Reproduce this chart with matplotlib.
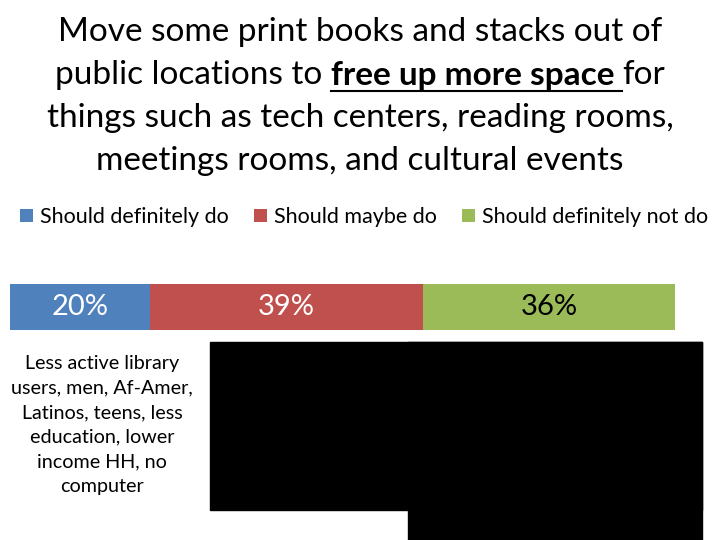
import matplotlib
matplotlib.use("Agg")
import matplotlib.pyplot as plt
from matplotlib.patches import Rectangle

# Data
categories = ["Should definitely do", "Should maybe do", "Should definitely not do"]
values = [20, 39, 36]
colors = ["#4F81BD", "#C0504D", "#9BBB59"]
label_colors = ["white", "white", "black"]

title_lines = ["Move some print books and stacks out of",
               None,
               "things such as tech centers, reading rooms,",
               "meetings rooms, and cultural events"]
title_parts = ["public locations to ", "free up more space ", "for"]

note_text = "Less active library\nusers, men, Af-Amer,\nLatinos, teens, less\neducation, lower\nincome HH, no\ncomputer"

plt.rcParams['font.family'] = ['Lato', 'DejaVu Sans']

W, H = 720, 540
fig = plt.figure(figsize=(7.2, 5.4), dpi=100)
fig.patch.set_facecolor("white")

def fx(px):
    return px / W

def fy(py):
    return 1 - py / H

# Title
title_size = 24
title_y = [32, 75, 118, 161]
for i, line in enumerate(title_lines):
    if line is not None:
        fig.text(0.5, fy(title_y[i]), line, ha="center", va="center",
                 fontsize=title_size)

# mixed line with bold underlined part
renderer = fig.canvas.get_renderer()
weights = ["normal", "bold", "normal"]
widths = []
for part, w in zip(title_parts, weights):
    t = fig.text(0, 0, part, fontsize=title_size, fontweight=w)
    bb = t.get_window_extent(renderer)
    widths.append(bb.width)
    t.remove()
total = sum(widths)
x = W / 2 - total / 2
for part, w, wd in zip(title_parts, weights, widths):
    fig.text(fx(x), fy(title_y[1]), part, ha="left", va="center",
             fontsize=title_size, fontweight=w)
    if w == "bold":
        fig.add_artist(plt.Line2D([fx(x), fx(x + wd)], [fy(title_y[1] + 16), fy(title_y[1] + 16)],
                                  color="black", lw=1.5))
    x += wd

# Bar
ax = fig.add_axes([fx(10), fy(330), fx(665), 46 / H])
left = 0
for cat, v, c, lc in zip(categories, values, colors, label_colors):
    ax.barh(0, v, left=left, color=c, height=1.0, label=cat)
    ax.text(left + v / 2, 0, f"{v}%", ha="center", va="center",
            fontsize=21, color=lc)
    left += v
ax.set_xlim(0, sum(values))
ax.set_ylim(-0.5, 0.5)
ax.axis("off")

handles, labels = ax.get_legend_handles_labels()
fig.legend(handles, labels, loc="center", bbox_to_anchor=(fx(364), fy(217)),
           ncol=3, frameon=False, fontsize=15.5, handlelength=0.6,
           handleheight=0.6, handletextpad=0.3, columnspacing=1.2)

# Note text
fig.text(fx(102), fy(425), note_text, ha="center", va="center",
         fontsize=14.2, linespacing=1.55)

# Redaction boxes
fig.add_artist(Rectangle((fx(210), fy(510)), fx(492), 168 / H,
                         transform=fig.transFigure, color="black"))
fig.add_artist(Rectangle((fx(408), fy(540)), fx(294), 198 / H,
                         transform=fig.transFigure, color="black"))

fig.savefig("out.png", dpi=100)
